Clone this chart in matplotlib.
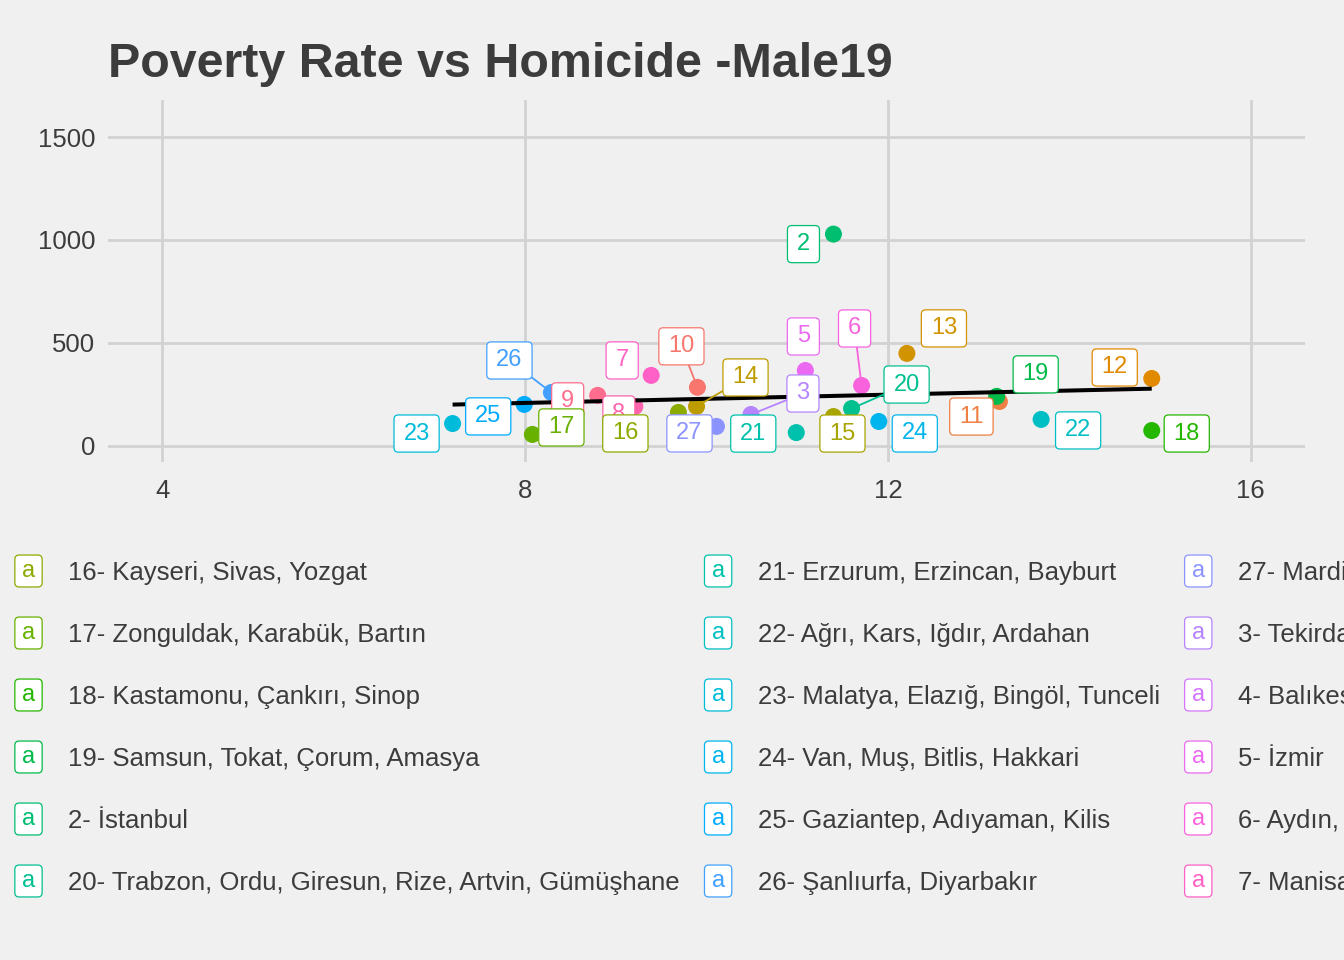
import numpy as np
import matplotlib
matplotlib.use("Agg")
import matplotlib.pyplot as plt
from matplotlib.patches import BoxStyle

# poverty rate vs homicide (male 19), one point per NUTS-2 region
regions = [
    "2- İstanbul",
    "3- Tekirdağ, Edirne, Kırklareli",
    "4- Balıkesir, Çanakkale",
    "5- İzmir",
    "6- Aydın, Denizli, Muğla",
    "7- Manisa, Afyonkarahisar, Kütahya, Uşak",
    "8- Bursa, Eskişehir, Bilecik",
    "9- Kocaeli, Sakarya, Düzce, Bolu, Yalova",
    "10- Ankara",
    "11- Konya, Karaman",
    "12- Antalya, Isparta, Burdur",
    "13- Adana, Mersin",
    "14- Hatay, Kahramanmaraş, Osmaniye",
    "15- Kırıkkale, Aksaray, Niğde, Nevşehir, Kırşehir",
    "16- Kayseri, Sivas, Yozgat",
    "17- Zonguldak, Karabük, Bartın",
    "18- Kastamonu, Çankırı, Sinop",
    "19- Samsun, Tokat, Çorum, Amasya",
    "20- Trabzon, Ordu, Giresun, Rize, Artvin, Gümüşhane",
    "21- Erzurum, Erzincan, Bayburt",
    "22- Ağrı, Kars, Iğdır, Ardahan",
    "23- Malatya, Elazığ, Bingöl, Tunceli",
    "24- Van, Muş, Bitlis, Hakkari",
    "25- Gaziantep, Adıyaman, Kilis",
    "26- Şanlıurfa, Diyarbakır",
    "27- Mardin, Batman, Şırnak, Siirt",
]
poverty = [11.40, 10.49, 11.08, 11.09, 11.71, 9.39, 9.21, 8.80, 9.90, 13.23,
           14.91, 12.21, 9.89, 11.40, 9.69, 8.08, 14.91, 13.20, 11.60, 10.99,
           13.69, 7.20, 11.90, 7.99, 8.29, 10.11]
homicide = [1028, 151, 248, 365, 292, 341, 190, 244, 283, 214,
            326, 448, 190, 141, 161, 54, 73, 239, 180, 63,
            127, 107, 117, 200, 258, 93]

# where ggrepel ended up putting the labels (pixel offsets from the point)
label_offset = {
    "2": (-30, -10), "3": (52, 21), "5": (-2, 34), "6": (-7, 57),
    "7": (-29, 15), "8": (-16, -8), "9": (-30, -6), "10": (-16, 41),
    "11": (-28, -15), "12": (-37, 11), "13": (37, 25), "14": (49, 29),
    "15": (9, -17), "16": (-53, -21), "17": (29, 7), "18": (35, -3),
    "19": (39, 22), "20": (55, 24), "21": (-43, -1), "22": (37, -11),
    "23": (-36, -10), "24": (36, -12), "25": (-36, -12), "26": (-42, 32),
    "27": (-27, -7),
}
with_segment = {"3", "6", "10", "14", "20", "26"}


def hue_hex(h, c=100.0, l=65.0):
    # ggplot's hue_pal: polar LUV -> sRGB
    hr = np.deg2rad(h)
    U, V = c * np.cos(hr), c * np.sin(hr)
    Xn, Yn, Zn = 95.047, 100.0, 108.883
    den = Xn + 15 * Yn + 3 * Zn
    un, vn = 4 * Xn / den, 9 * Yn / den
    Y = Yn * ((l + 16) / 116) ** 3
    u = U / (13 * l) + un
    v = V / (13 * l) + vn
    X = Y * 9 * u / (4 * v)
    Z = Y * (12 - 3 * u - 20 * v) / (4 * v)
    X, Y, Z = X / 100, Y / 100, Z / 100
    rgb = np.array([3.240479 * X - 1.537150 * Y - 0.498535 * Z,
                    -0.969256 * X + 1.875992 * Y + 0.041556 * Z,
                    0.055648 * X - 0.204043 * Y + 1.057311 * Z])
    rgb = np.where(rgb <= 0.0031308, 12.92 * rgb, 1.055 * np.abs(rgb) ** (1 / 2.4) - 0.055)
    rgb = np.clip(rgb, 0, 1)
    return "#%02X%02X%02X" % tuple(int(round(x * 255)) for x in rgb)


levels = sorted(regions)
n = len(levels)
hues = np.linspace(15, 375, n + 1)[:n]
colour = {lev: hue_hex(h) for lev, h in zip(levels, hues)}


def rounded(padx, pady):
    def style(x0, y0, width, height, mutation_size):
        px, py = padx * mutation_size, pady * mutation_size
        return BoxStyle.Round(pad=0, rounding_size=0.18)(
            x0 - px, y0 - py, width + 2 * px, height + 2 * py, mutation_size)
    return style


label_box = rounded(0.40, 0.32)
key_box = rounded(0.30, 0.21)

BG = "#F0F0F0"
GRID = "#D2D2D2"
INK = "#3C3C3C"
plt.rcParams["font.family"] = ["Liberation Sans", "DejaVu Sans"]

W, H = 1344, 960
fig = plt.figure(figsize=(W / 100, H / 100), dpi=100, facecolor=BG)
ax = fig.add_axes([108 / W, 1 - 462 / H, (1305 - 108) / W, (462 - 100) / H])
ax.set_facecolor(BG)
for s in ax.spines.values():
    s.set_visible(False)
ax.set_xlim(3.4, 16.6)
ax.set_ylim(-80, 1680)
ax.set_xticks([4, 8, 12, 16])
ax.set_yticks([0, 500, 1000, 1500])
ax.grid(True, color=GRID, lw=2.0)
ax.set_axisbelow(True)
ax.tick_params(length=0, labelsize=18.5, labelcolor=INK)
ax.tick_params(axis="y", pad=9)
ax.tick_params(axis="x", pad=12)

pts_col = [colour[r] for r in regions]
ax.scatter(poverty, homicide, s=150, c=pts_col, lw=0, zorder=2)

coef = np.polyfit(poverty, homicide, 1)
xs = np.array([min(poverty), max(poverty)])
ax.plot(xs, np.polyval(coef, xs), color="black", lw=2.9, zorder=3,
        solid_capstyle="butt")

for i, (r, x, y) in enumerate(zip(regions, poverty, homicide)):
    num = r.split("-")[0]
    if num not in label_offset:
        continue
    col = colour[r]
    arrow = None
    if num in with_segment:
        arrow = dict(arrowstyle="-", color=col, lw=1.3, shrinkA=0, shrinkB=6)
    ax.annotate(num, xy=(x, y), xytext=label_offset[num], textcoords="offset pixels",
                ha="center", va="center", fontsize=17, color=col,
                bbox=dict(boxstyle=label_box, fc="white", ec=col, lw=0.9),
                arrowprops=arrow, zorder=10 + i)

fig.text(108 / W, 1 - 77 / H, "Poverty Rate vs Homicide -Male19", fontsize=34.8,
         fontweight="bold", color=INK, ha="left", va="baseline")

# legend along the bottom, 6 rows, filled column by column
rows = 6
row_y0, row_gap = 573, 62
key_w, col_gap = 53, 25
leg_size = 18.5
renderer = fig.canvas.get_renderer()
ncol = int(np.ceil(n / rows))
col_w = []
for c in range(ncol):
    widest = 0
    for lev in levels[c * rows:(c + 1) * rows]:
        t = fig.text(0, 0, lev, fontsize=leg_size)
        widest = max(widest, t.get_window_extent(renderer).width)
        t.remove()
    col_w.append(key_w + widest + col_gap)
# second column starts at the left edge; the first one runs off the figure
col_left = [15.0 - col_w[0], 15.0]
for c in range(2, ncol):
    col_left.append(col_left[-1] + col_w[c - 1])

for i, lev in enumerate(levels):
    c, r = divmod(i, rows)
    x0 = col_left[c]
    yy = 1 - (row_y0 + r * row_gap) / H
    fig.text((x0 + 13.5) / W, yy + 2 / H, "a", fontsize=17, color=colour[lev],
             ha="center", va="center",
             bbox=dict(boxstyle=key_box, fc="white", ec=colour[lev], lw=0.9))
    fig.text((x0 + key_w) / W, yy, lev, fontsize=leg_size, color=INK,
             ha="left", va="center")

fig.savefig("out.png", dpi=100, facecolor=BG)
